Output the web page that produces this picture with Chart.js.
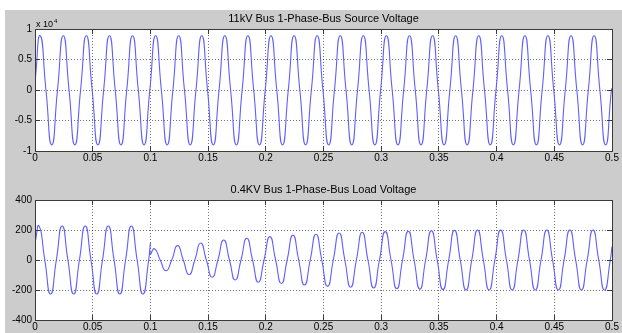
<!DOCTYPE html>
<html>
<head>
<meta charset="utf-8">
<script src="https://cdn.jsdelivr.net/npm/chart.js@4.4.0/dist/chart.umd.min.js"></script>
<style>
  html, body { margin: 0; padding: 0; background: #fff; }
  body { width: 622px; height: 333px; position: relative; overflow: hidden; }
  #figure { position: absolute; left: 5px; top: 10px; right: 0; bottom: 0; background: #cccccc; }
  .plot { position: absolute; left: 0; width: 622px; }
  #sourcePlot { top: 0; height: 170px; }
  #loadPlot { top: 170px; height: 163px; }
</style>
</head>
<body>
<div id="figure"></div>
<div class="plot" id="sourcePlot"><canvas id="sourceChart"></canvas></div>
<div class="plot" id="loadPlot"><canvas id="loadChart"></canvas></div>
<script>
// tick labels
const timeTicks = [0, 0.05, 0.1, 0.15, 0.2, 0.25, 0.3, 0.35, 0.4, 0.45, 0.5];
const sourceTicks = [-10000, -5000, 0, 5000, 10000];   // shown as x 10^4
const loadTicks = [-400, -200, 0, 200, 400];

// 11kV source voltage: start, then peak / zero / trough / zero every quarter cycle
const sourceTime = [0,
  0.0045, 0.0095, 0.0145, 0.0195, 0.0245, 0.0295, 0.0345, 0.0395, 0.0445, 0.0495,
  0.0545, 0.0595, 0.0645, 0.0695, 0.0745, 0.0795, 0.0845, 0.0895, 0.0945, 0.0995,
  0.1045, 0.1095, 0.1145, 0.1195, 0.1245, 0.1295, 0.1345, 0.1395, 0.1445, 0.1495,
  0.1545, 0.1595, 0.1645, 0.1695, 0.1745, 0.1795, 0.1845, 0.1895, 0.1945, 0.1995,
  0.2045, 0.2095, 0.2145, 0.2195, 0.2245, 0.2295, 0.2345, 0.2395, 0.2445, 0.2495,
  0.2545, 0.2595, 0.2645, 0.2695, 0.2745, 0.2795, 0.2845, 0.2895, 0.2945, 0.2995,
  0.3045, 0.3095, 0.3145, 0.3195, 0.3245, 0.3295, 0.3345, 0.3395, 0.3445, 0.3495,
  0.3545, 0.3595, 0.3645, 0.3695, 0.3745, 0.3795, 0.3845, 0.3895, 0.3945, 0.3995,
  0.4045, 0.4095, 0.4145, 0.4195, 0.4245, 0.4295, 0.4345, 0.4395, 0.4445, 0.4495,
  0.4545, 0.4595, 0.4645, 0.4695, 0.4745, 0.4795, 0.4845, 0.4895, 0.4945, 0.4995,
  0.5];
const sourceVolt = [1300,
  8900, 0, -9000, 0, 8900, 0, -9000, 0, 8900, 0,
  -9000, 0, 8900, 0, -9000, 0, 8900, 0, -9000, 0,
  8900, 0, -9000, 0, 8900, 0, -9000, 0, 8900, 0,
  -9000, 0, 8900, 0, -9000, 0, 8900, 0, -9000, 0,
  8900, 0, -9000, 0, 8900, 0, -9000, 0, 8900, 0,
  -9000, 0, 8900, 0, -9000, 0, 8900, 0, -9000, 0,
  8900, 0, -9000, 0, 8900, 0, -9000, 0, 8900, 0,
  -9000, 0, 8900, 0, -9000, 0, 8900, 0, -9000, 0,
  8900, 0, -9000, 0, 8900, 0, -9000, 0, 8900, 0,
  -9000, 0, 8900, 0, -9000, 0, 8900, 0, -9000, 0,
  300];

// 0.4kV load voltage: steady until the disturbance at 0.1 s, then slow recovery
const loadTime = [0,
  0.0035, 0.0085, 0.0135, 0.0185, 0.0235, 0.0285, 0.0335, 0.0385, 0.0435, 0.0485,
  0.0535, 0.0585, 0.0635, 0.0685, 0.0735, 0.0785, 0.0835, 0.0885, 0.0935, 0.0985,
  0.1, 0.1,
  0.1035, 0.1085, 0.1135, 0.1185, 0.1235, 0.1285, 0.1335, 0.1385, 0.1435, 0.1485,
  0.1535, 0.1585, 0.1635, 0.1685, 0.1735, 0.1785, 0.1835, 0.1885, 0.1935, 0.1985,
  0.2035, 0.2085, 0.2135, 0.2185, 0.2235, 0.2285, 0.2335, 0.2385, 0.2435, 0.2485,
  0.2535, 0.2585, 0.2635, 0.2685, 0.2735, 0.2785, 0.2835, 0.2885, 0.2935, 0.2985,
  0.3035, 0.3085, 0.3135, 0.3185, 0.3235, 0.3285, 0.3335, 0.3385, 0.3435, 0.3485,
  0.3535, 0.3585, 0.3635, 0.3685, 0.3735, 0.3785, 0.3835, 0.3885, 0.3935, 0.3985,
  0.4035, 0.4085, 0.4135, 0.4185, 0.4235, 0.4285, 0.4335, 0.4385, 0.4435, 0.4485,
  0.4535, 0.4585, 0.4635, 0.4685, 0.4735, 0.4785, 0.4835, 0.4885, 0.4935, 0.4985,
  0.5];
const loadVolt = [115,
  227, 0, -227, 0, 227, 0, -227, 0, 227, 0,
  -227, 0, 227, 0, -227, 0, 227, 0, -227, 0,
  110, 40,
  75, 0, -72, 0, 96, 0, -97, 0, 113, 0,
  -115, 0, 133, 0, -133, 0, 145, 0, -148, 0,
  156, 0, -157, 0, 166, 0, -167, 0, 172, 0,
  -176, 0, 180, 0, -182, 0, 185, 0, -187, 0,
  189, 0, -191, 0, 192, 0, -194, 0, 195, 0,
  -197, 0, 198, 0, -199, 0, 200, 0, -200, 0,
  200, 0, -200, 0, 200, 0, -200, 0, 200, 0,
  -200, 0, 200, 0, -200, 0, 200, 0, -200, 0,
  90];

const lineBlue = 'rgb(95, 95, 255)';
const axisColor = '#3a3a3a';

Chart.defaults.font.family = '"Liberation Sans", Arial, sans-serif';
Chart.defaults.font.size = 10;
Chart.defaults.color = '#000';

// white axes box, inward ticks on all sides, title and exponent label
const matlabAxes = {
  id: 'matlabAxes',
  beforeDraw(chart) {
    const { ctx, chartArea: a } = chart;
    ctx.save();
    ctx.fillStyle = '#fff';
    ctx.fillRect(a.left, a.top, a.right - a.left, a.bottom - a.top);
    ctx.restore();
  },
  afterDatasetsDraw(chart) {
    const { ctx, chartArea: a, scales: { x, y } } = chart;
    const px = v => Math.round(v - 0.5) + 0.5;
    const len = 5;
    ctx.save();
    ctx.strokeStyle = axisColor;
    ctx.lineWidth = 1;
    ctx.beginPath();
    x.ticks.forEach(t => {
      const p = px(x.getPixelForValue(t.value));
      ctx.moveTo(p, a.top); ctx.lineTo(p, a.top + len);
      ctx.moveTo(p, a.bottom); ctx.lineTo(p, a.bottom - len);
    });
    y.ticks.forEach(t => {
      const p = px(y.getPixelForValue(t.value));
      ctx.moveTo(a.left, p); ctx.lineTo(a.left + len, p);
      ctx.moveTo(a.right, p); ctx.lineTo(a.right - len, p);
    });
    ctx.stroke();
    ctx.strokeRect(px(a.left), px(a.top), px(a.right) - px(a.left), px(a.bottom) - px(a.top));
    ctx.restore();
  },
  afterDraw(chart, args, opts) {
    const { ctx, chartArea: a } = chart;
    ctx.save();
    ctx.fillStyle = '#000';
    ctx.textBaseline = 'alphabetic';
    ctx.font = '11px "Liberation Sans", Arial, sans-serif';
    ctx.textAlign = 'center';
    ctx.fillText(opts.title, (a.left + a.right) / 2, a.top - 7.5);
    if (opts.exponent) {
      ctx.textAlign = 'left';
      ctx.font = '9px "Liberation Sans", Arial, sans-serif';
      ctx.fillText('x 10', a.left + 1, a.top - 2.5);
      const w = ctx.measureText('x 10').width;
      ctx.font = '6px "Liberation Sans", Arial, sans-serif';
      ctx.fillText(opts.exponent, a.left + 2 + w, a.top - 6.5);
    }
    ctx.restore();
  }
};

function makeChart(canvasId, times, volts, yTicks, opts) {
  return new Chart(document.getElementById(canvasId), {
    type: 'line',
    data: {
      datasets: [{
        data: times.map((t, i) => ({ x: t, y: volts[i] })),
        borderColor: lineBlue,
        borderWidth: 1.1,
        pointRadius: 0,
        tension: 0.6,
        fill: false
      }]
    },
    options: {
      responsive: true,
      maintainAspectRatio: false,
      animation: false,
      layout: { padding: { left: 0, right: 10, top: opts.top, bottom: 0 } },
      plugins: {
        legend: { display: false },
        tooltip: { enabled: false },
        matlabAxes: { title: opts.title, exponent: opts.exponent }
      },
      scales: {
        x: {
          type: 'linear',
          min: timeTicks[0],
          max: timeTicks[timeTicks.length - 1],
          afterBuildTicks: s => { s.ticks = timeTicks.map(v => ({ value: v })); },
          afterFit: s => { s.height = opts.xHeight; s.paddingLeft = 0; s.paddingRight = 0; },
          ticks: { padding: 1, maxRotation: 0, autoSkip: false, callback: v => String(+v.toFixed(2)) },
          grid: { color: 'rgba(0,0,0,0.55)', drawTicks: false },
          border: { display: false, dash: [1, 2] }
        },
        y: {
          min: yTicks[0],
          max: yTicks[yTicks.length - 1],
          afterBuildTicks: s => { s.ticks = yTicks.map(v => ({ value: v })); },
          afterFit: s => { s.width = 35; s.paddingTop = 0; s.paddingBottom = 0; },
          ticks: { padding: 3, callback: v => String(opts.scale ? v / opts.scale : v) },
          grid: { color: 'rgba(0,0,0,0.55)', drawTicks: false },
          border: { display: false, dash: [1, 2] }
        }
      }
    },
    plugins: [matlabAxes]
  });
}

makeChart('sourceChart', sourceTime, sourceVolt, sourceTicks, {
  title: '11kV Bus 1-Phase-Bus Source Voltage', exponent: '4', scale: 10000, top: 29, xHeight: 19
});
makeChart('loadChart', loadTime, loadVolt, loadTicks, {
  title: '0.4KV Bus 1-Phase-Bus Load Voltage', exponent: null, scale: 0, top: 30, xHeight: 13
});
</script>
</body>
</html>
